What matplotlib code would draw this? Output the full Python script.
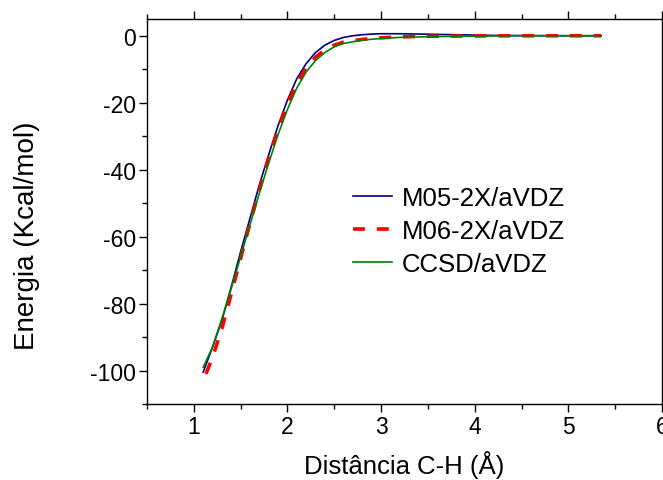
import matplotlib
matplotlib.use('Agg')
import matplotlib.pyplot as plt
from matplotlib.ticker import MultipleLocator

plt.rcParams['font.family'] = ['Liberation Sans', 'DejaVu Sans']
plt.rcParams['axes.unicode_minus'] = False

# M05-2X/aVDZ
x_m05 = [1.10, 1.20, 1.30, 1.40, 1.50, 1.60, 1.70, 1.80, 1.90, 2.00, 2.10, 2.20,
         2.30, 2.40, 2.50, 2.60, 2.70, 2.80, 2.90, 3.00, 3.20, 3.40, 3.60, 3.80,
         4.00, 4.20, 4.50, 5.00, 5.35]
y_m05 = [-100.5, -93.0, -85.0, -75.0, -64.5, -54.5, -44.5, -35.5, -26.8, -19.2,
         -12.8, -8.3, -5.0, -2.8, -1.4, -0.5, 0.0, 0.3, 0.5, 0.6, 0.6, 0.5, 0.4,
         0.3, 0.2, 0.1, 0.05, 0.0, 0.0]

# M06-2X/aVDZ
x_m06 = [1.13, 1.20, 1.30, 1.40, 1.50, 1.60, 1.70, 1.80, 1.90, 2.00, 2.10, 2.20,
         2.30, 2.40, 2.50, 2.60, 2.80, 3.00, 3.20, 3.50, 4.00, 4.50, 5.00, 5.35]
y_m06 = [-101.0, -96.0, -87.5, -77.0, -66.5, -56.0, -46.0, -36.5, -28.0, -20.5,
         -14.2, -9.6, -6.4, -4.2, -2.8, -1.9, -1.1, -0.6, -0.35, -0.15, -0.05,
         0.0, 0.0, 0.0]

# CCSD/aVDZ
x_ccsd = [1.10, 1.20, 1.30, 1.40, 1.50, 1.60, 1.70, 1.80, 1.90, 2.00, 2.10, 2.20,
          2.30, 2.40, 2.50, 2.60, 2.80, 3.00, 3.20, 3.50, 4.00, 4.50, 5.00, 5.35]
y_ccsd = [-99.0, -93.0, -84.5, -75.5, -66.0, -56.5, -47.0, -38.0, -29.5, -22.0,
          -15.6, -10.8, -7.4, -5.0, -3.3, -2.3, -1.3, -0.8, -0.5, -0.3, -0.1,
          0.0, 0.0, 0.0]

fig = plt.figure(figsize=(6.63, 4.81), dpi=100)
ax = fig.add_axes([147/663, 1 - 405/481, 515/663, 385/481])

ax.plot(x_m05, y_m05, color='#000080', lw=1.2, label='M05-2X/aVDZ')
ax.plot(x_m06, y_m06, color='#ff0000', lw=2.6, dashes=(3.3, 3.3), label='M06-2X/aVDZ')
ax.plot(x_ccsd, y_ccsd, color='#008000', lw=1.2, label='CCSD/aVDZ')

ax.set_xlim(0.5, 6)
ax.set_ylim(-110, 5)
ax.xaxis.set_major_locator(MultipleLocator(1))
ax.xaxis.set_minor_locator(MultipleLocator(0.5))
ax.yaxis.set_major_locator(MultipleLocator(20))
ax.yaxis.set_minor_locator(MultipleLocator(10))
ax.tick_params(which='both', direction='out', top=True, right=True,
               labelsize=16.5, width=1, pad=2)
ax.tick_params(which='major', length=6)
ax.tick_params(which='minor', length=3.5)
for s in ax.spines.values():
    s.set_linewidth(1)

ax.set_xlabel('Distância C-H (Å)', fontsize=18.5)
ax.set_ylabel('Energia (Kcal/mol)', fontsize=20)
ax.xaxis.set_label_coords(0.5, -0.12)
ax.yaxis.set_label_coords(-0.207, 0.44)

ax.legend(loc='center left', bbox_to_anchor=(0.4, 0.449), frameon=False,
          fontsize=18.5, handlelength=1.5, handletextpad=0.4, labelspacing=0.35,
          borderpad=0, borderaxespad=0)

fig.savefig('out.png', dpi=100)
